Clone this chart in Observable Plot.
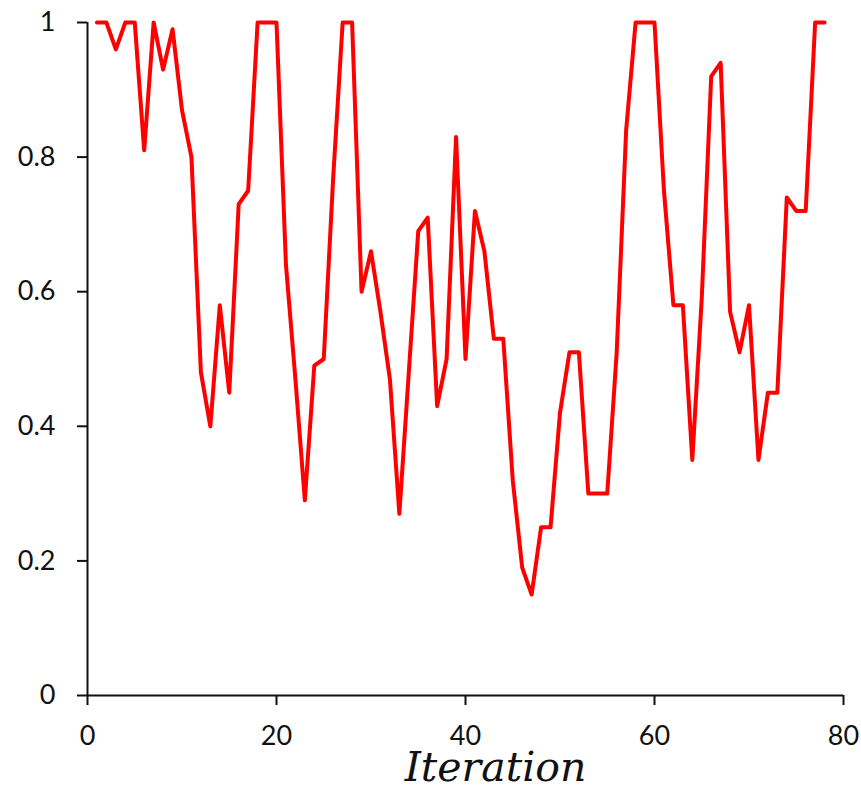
<!DOCTYPE html>
<html><head><meta charset="utf-8">
<script src="https://cdn.jsdelivr.net/npm/d3@7"></script>
<script src="https://cdn.jsdelivr.net/npm/@observablehq/plot@0.6"></script>
<style>body{margin:0;background:#fff}</style>
</head><body><div id="chart"></div>
<script>
const iterations = [1,2,3,4,5,6,7,8,9,10,11,12,13,14,15,16,17,18,19,20,
  21,22,23,24,25,26,27,28,29,30,31,32,33,34,35,36,37,38,39,40,
  41,42,43,44,45,46,47,48,49,50,51,52,53,54,55,56,57,58,59,60,
  61,62,63,64,65,66,67,68,69,70,71,72,73,74,75,76,77,78];
const values = [1.0,1.0,0.96,1.0,1.0,0.81,1.0,0.93,0.99,0.87,
  0.80,0.48,0.40,0.58,0.45,0.73,0.75,1.0,1.0,1.0,
  0.64,0.47,0.29,0.49,0.50,0.77,1.0,1.0,0.60,0.66,
  0.57,0.47,0.27,0.48,0.69,0.71,0.43,0.50,0.83,0.50,
  0.72,0.66,0.53,0.53,0.32,0.19,0.15,0.25,0.25,0.42,
  0.51,0.51,0.30,0.30,0.30,0.51,0.84,1.0,1.0,1.0,
  0.75,0.58,0.58,0.35,0.59,0.92,0.94,0.57,0.51,0.58,
  0.35,0.45,0.45,0.74,0.72,0.72,1.0,1.0];
const xTicks = [0,20,40,60,80];
const yTicks = [0,0.2,0.4,0.6,0.8,1];
const xLabel = "Iteration";

const data = iterations.map((x, i) => ({x, y: values[i]}));

const plot = Plot.plot({
  width: 861, height: 790,
  marginLeft: 87, marginRight: 18, marginTop: 22, marginBottom: 95,
  x: {domain: [0, 80]},
  y: {domain: [0, 1]},
  style: {fontFamily: "Lato", fontSize: "27px", color: "#111", background: "#fff", overflow: "visible"},
  marks: [
    Plot.axisX({ticks: xTicks, tickSize: 10, tickPadding: 20, label: null, strokeWidth: 2}),
    Plot.axisY({ticks: yTicks, tickSize: 10, tickPadding: 22, label: null, strokeWidth: 2, tickFormat: d => String(d)}),
    Plot.ruleY([0], {strokeWidth: 2}),
    Plot.ruleX([0], {strokeWidth: 2}),
    Plot.line(data, {x: "x", y: "y", stroke: "#ff0000", strokeWidth: 4, strokeLinejoin: "round"}),
    Plot.text([xLabel], {text: d => d, frameAnchor: "bottom", dx: 30, dy: 85, lineAnchor: "bottom",
      fontFamily: "DejaVu Serif", fontStyle: "italic", fontSize: 41, fill: "#111"})
  ]
});
document.getElementById("chart").appendChild(plot);
</script>
</body></html>
